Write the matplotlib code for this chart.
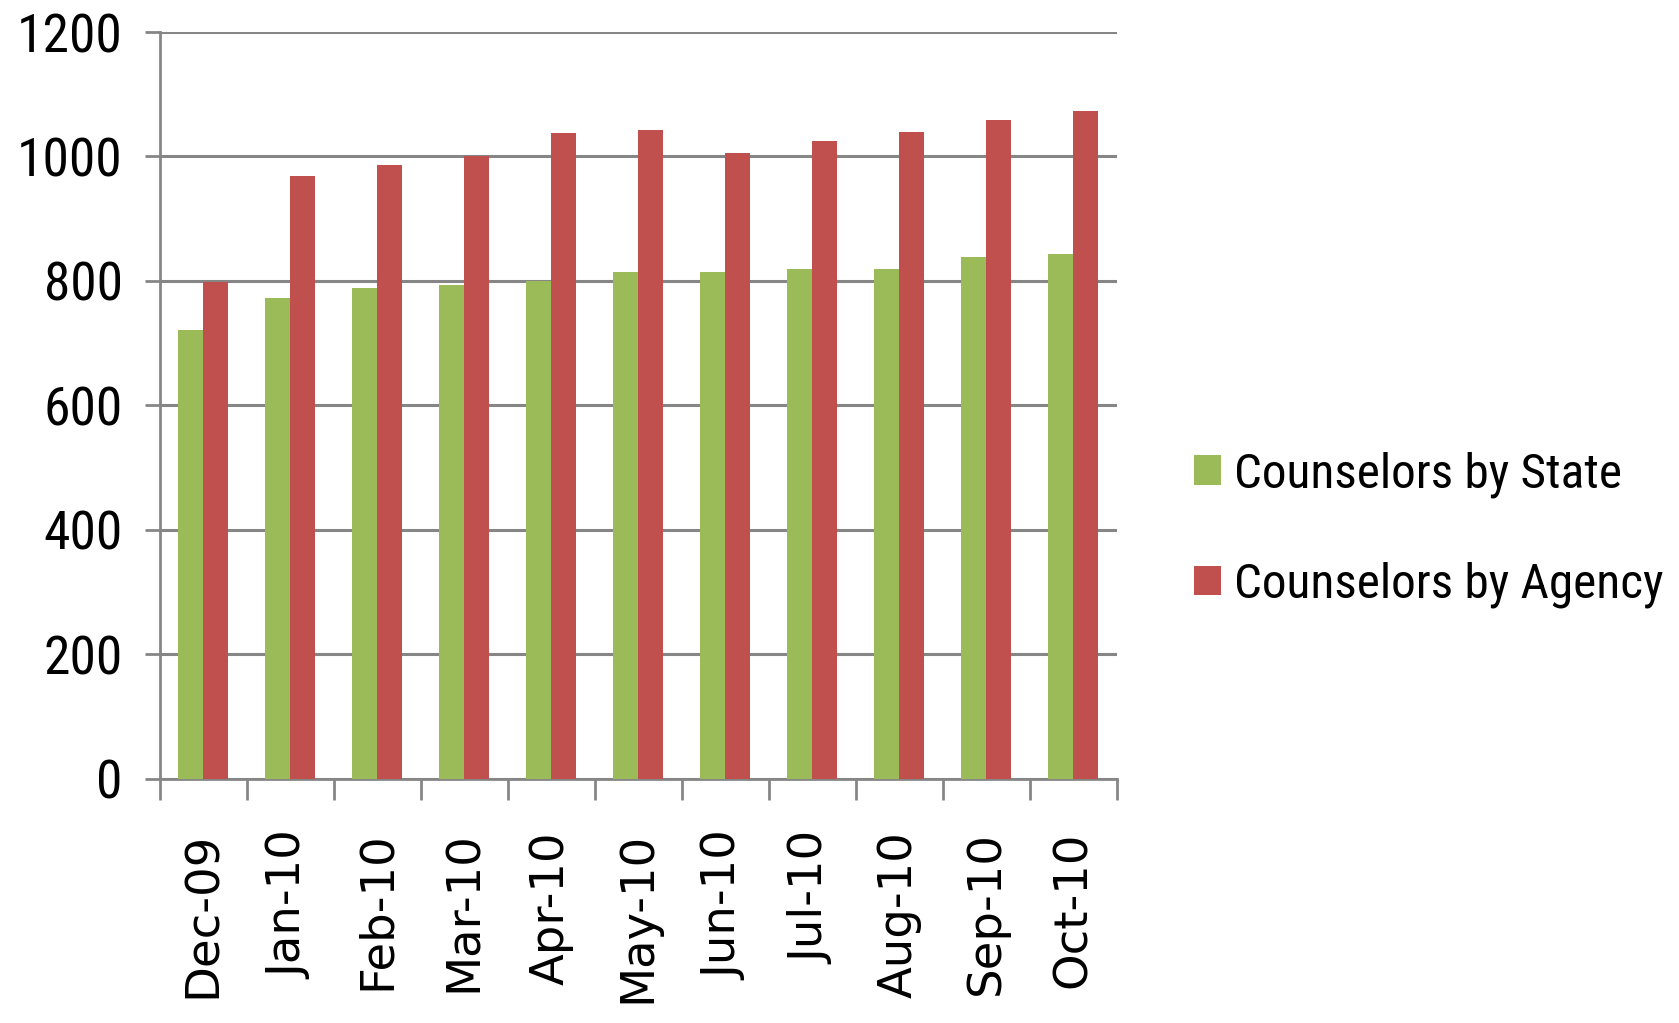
import numpy as np
import matplotlib
matplotlib.use("Agg")
import matplotlib.pyplot as plt

months = ['Dec-09', 'Jan-10', 'Feb-10', 'Mar-10', 'Apr-10', 'May-10',
          'Jun-10', 'Jul-10', 'Aug-10', 'Sep-10', 'Oct-10']
by_state = [721, 773, 788, 793, 800, 815, 815, 819, 819, 838, 843]
by_agency = [798, 969, 987, 1000, 1038, 1043, 1006, 1025, 1039, 1058, 1073]

green = '#9BBB59'
red = '#C0504D'
grey = '#868686'
narrow = ['Roboto Condensed', 'Carlito', 'DejaVu Sans']

fig = plt.figure(figsize=(16.79, 10.23), dpi=100)
ax = fig.add_axes([0.0950, 0.2390, 0.5702, 0.7297])

x = np.arange(len(months))
w = 0.286
ax.bar(x - w / 2, by_state, w, color=green, label='Counselors by State', zorder=3)
ax.bar(x + w / 2, by_agency, w, color=red, label='Counselors by Agency', zorder=3)

ax.set_xlim(-0.5, len(months) - 0.5)
ax.set_ylim(0, 1200)
ax.set_yticks(np.arange(0, 1201, 200))
ax.yaxis.grid(True, color=grey, linewidth=2.2, zorder=0)
ax.set_axisbelow(True)

for s in ['top', 'right']:
    ax.spines[s].set_visible(False)
for s in ['left', 'bottom']:
    ax.spines[s].set_color(grey)
    ax.spines[s].set_linewidth(2.0)

ax.tick_params(axis='y', direction='out', length=10.5, width=2.0, color=grey, pad=16)
for lab in ax.get_yticklabels():
    lab.set_family(narrow)
    lab.set_fontsize(38.5)

# month labels at centres, tick marks between groups
ax.set_xticks(x)
ax.set_xticklabels(months, rotation=90, fontsize=33.5, family='DejaVu Sans')
ax.set_xticks(np.arange(len(months) + 1) - 0.5, minor=True)
ax.tick_params(axis='x', which='major', length=0, pad=38)
ax.tick_params(axis='x', which='minor', direction='out', length=15, width=2.0, color=grey)

fig.legend(loc='center left', bbox_to_anchor=(0.711, 0.482), frameon=False,
           prop={'family': narrow, 'size': 35.5}, handlelength=0.55, handleheight=0.55,
           handletextpad=0.26, labelspacing=1.3, borderpad=0, borderaxespad=0)

fig.savefig('out.png', dpi=100)
